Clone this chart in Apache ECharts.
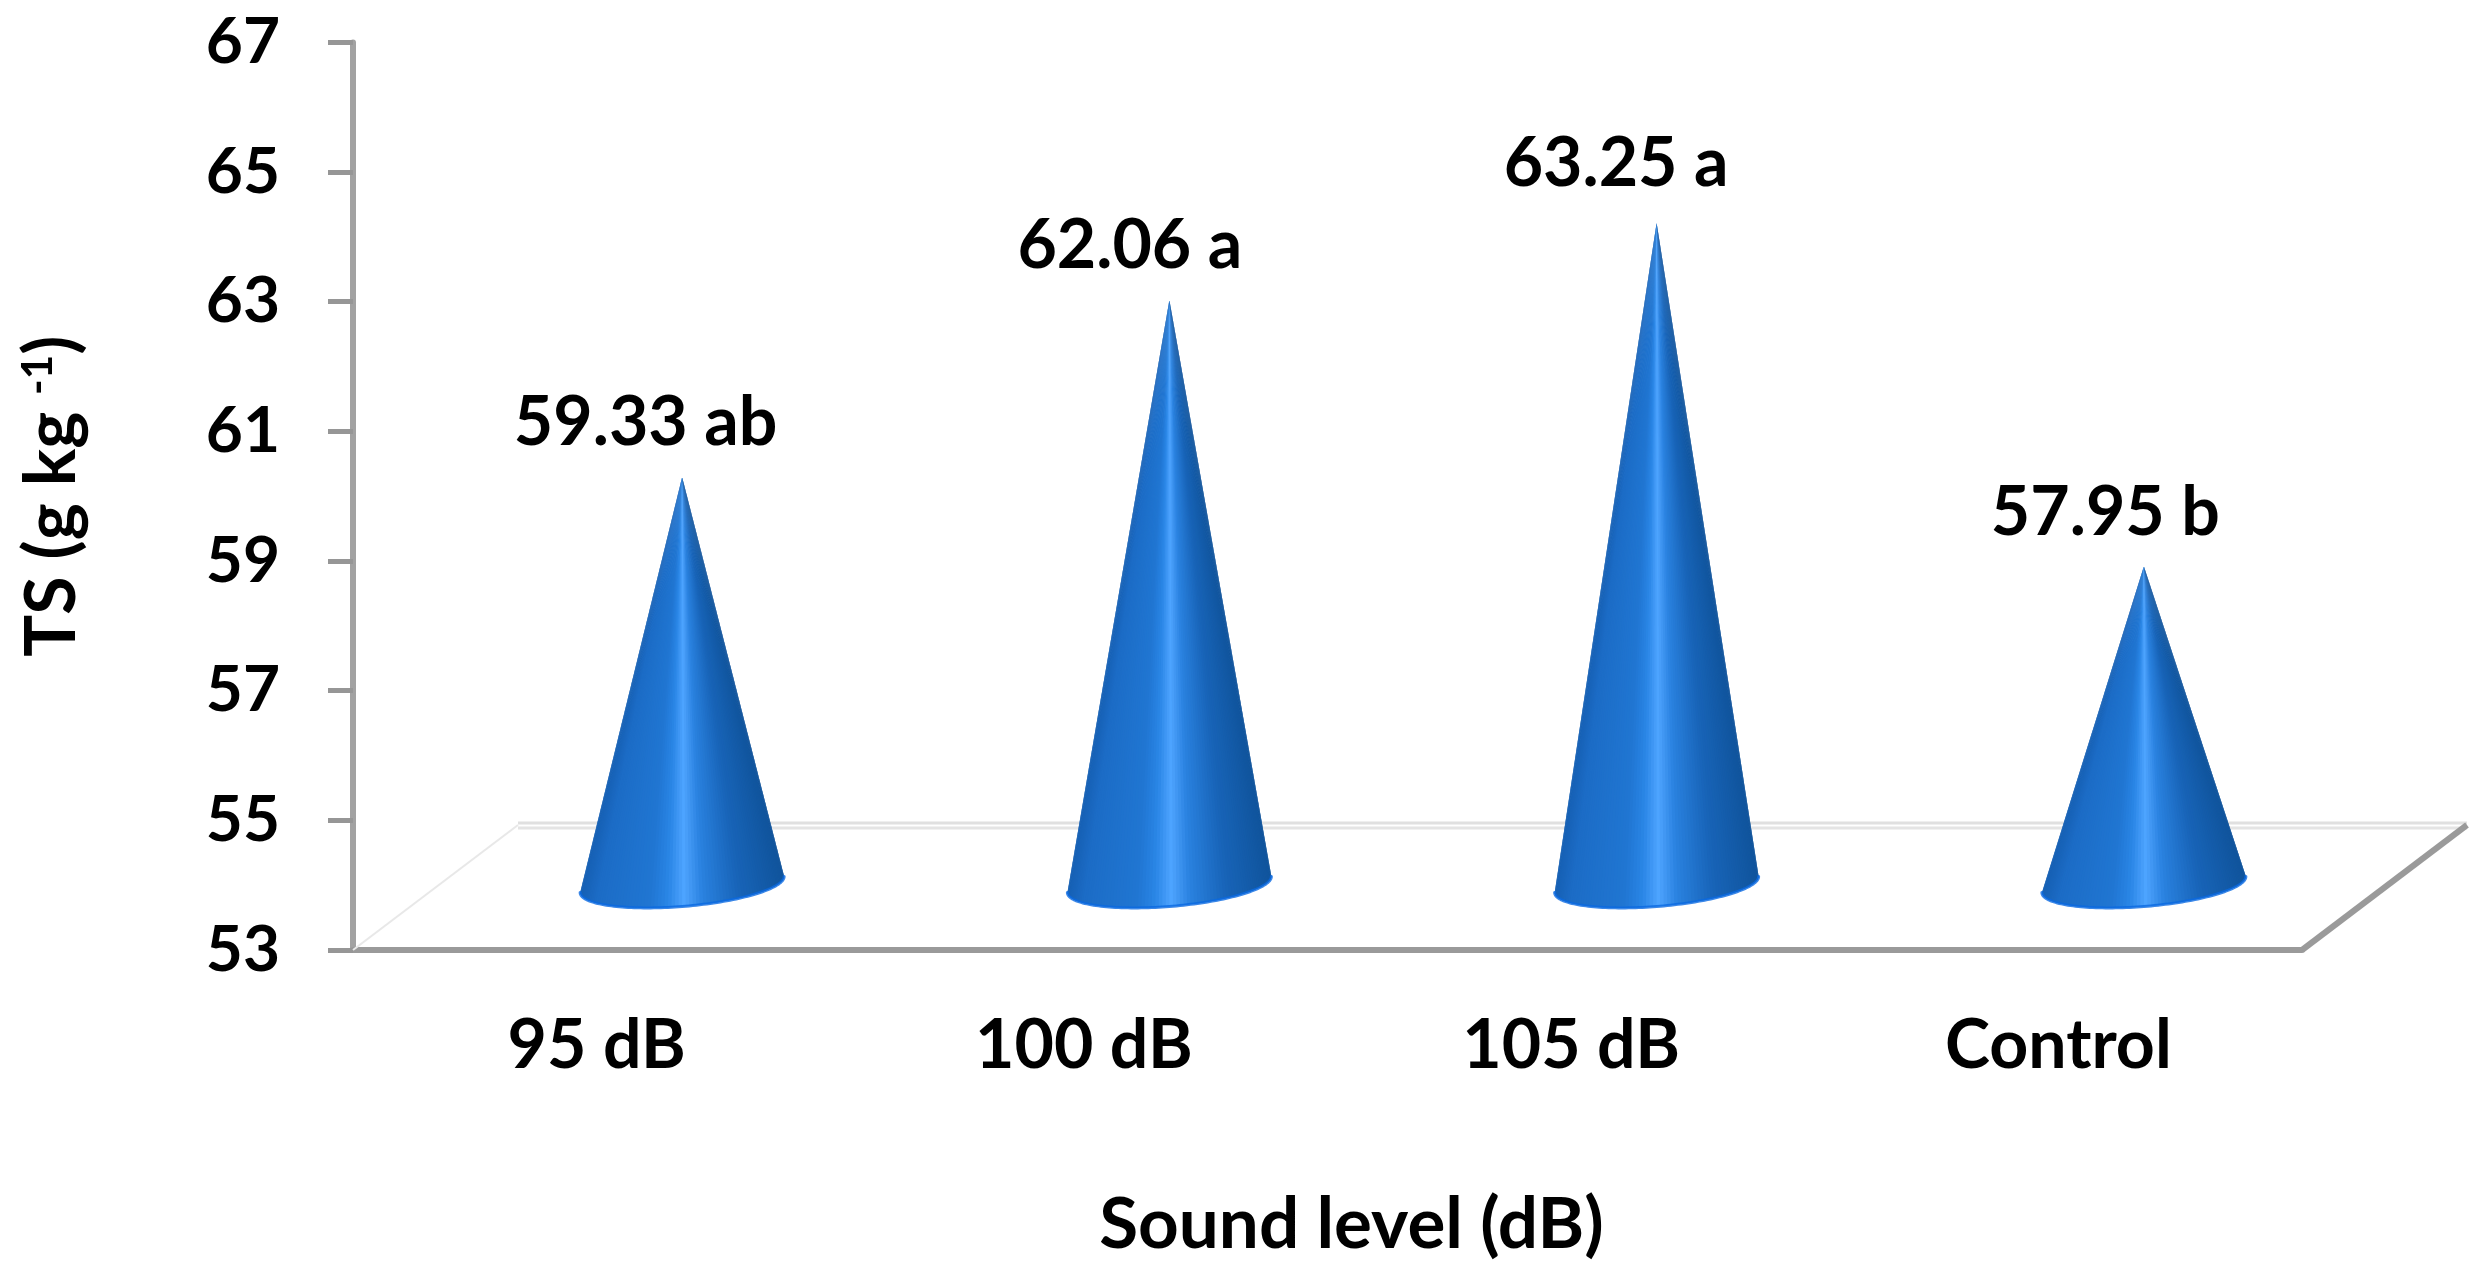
<!DOCTYPE html>
<html>
<head>
<meta charset="utf-8">
<title>TS by sound level</title>
<script src="https://cdn.jsdelivr.net/npm/echarts@6/dist/echarts.min.js"></script>
<style>
    html, body { margin: 0; padding: 0; background: #fff; }
    #chart_1 { width: 2484px; height: 1279px; }
</style>
</head>
<body>
<div id="chart_1"></div>
<script>
var categories = ['95 dB', '100 dB', '105 dB', 'Control'];
var tsValues = [59.33, 62.06, 63.25, 57.95];
var tsLetters = ['ab', 'a', 'a', 'b'];
var yTicks = [53, 55, 57, 59, 61, 63, 65, 67];

// the picture is a fake 3D chart, floor goes back this far from the axes
var depthX = 165;
var depthY = 125;
var coneShiftX = 3;
var coneHalfWidth = 102;
var coneTilt = 8;
var coneRound = 22;
// value labels were hand placed in the original, shift from category centre
var labelShiftX = [49, 46, 45, 47];
var labelShiftY = [54, 54, 59, 54];

// colours across the cone from left edge to right edge
var coneStops = [
    [0, [22, 96, 180]],
    [0.08, [28, 108, 198]],
    [0.34, [32, 118, 210]],
    [0.43, [42, 134, 230]],
    [0.51, [78, 164, 255]],
    [0.6, [42, 130, 224]],
    [0.78, [24, 100, 184]],
    [1, [16, 84, 156]]
];

function coneColor(u) {
    for (var i = 1; i < coneStops.length; i++) {
        if (u <= coneStops[i][0]) {
            var a = coneStops[i - 1], b = coneStops[i];
            var f = (u - a[0]) / (b[0] - a[0]);
            return 'rgb(' + [0, 1, 2].map(function (k) {
                return Math.round(a[1][k] + (b[1][k] - a[1][k]) * f);
            }).join(',') + ')';
        }
    }
    return 'rgb(16,84,156)';
}

// floor of the 3D box, back line and two slanted sides
function renderFloor(params, api) {
    var box = params.coordSys;
    var x0 = box.x, x1 = box.x + box.width, y0 = box.y + box.height;
    var backY = y0 - depthY;
    return {
        type: 'group',
        children: [
            { type: 'line', shape: { x1: x0 + depthX, y1: backY - 2, x2: x1 + depthX, y2: backY - 2 }, style: { stroke: '#e0e0e0', lineWidth: 3 } },
            { type: 'line', shape: { x1: x0 + depthX, y1: backY + 3, x2: x1 + depthX, y2: backY + 3 }, style: { stroke: '#e4e4e4', lineWidth: 3 } },
            { type: 'line', shape: { x1: x0, y1: y0, x2: x0 + depthX, y2: backY }, style: { stroke: '#e8e8e8', lineWidth: 2 } },
            { type: 'line', shape: { x1: x1, y1: y0, x2: x1 + depthX, y2: backY }, style: { stroke: '#9a9a9a', lineWidth: 6 } }
        ]
    };
}

function renderCone(params, api) {
    var idx = params.dataIndex;
    var top = api.coord([api.value(0), api.value(1)]);
    var foot = api.coord([api.value(0), yTicks[0]]);
    var apexX = top[0] + depthX / 2 + coneShiftX;
    var apexY = top[1] - depthY / 2;
    var baseX = foot[0] + depthX / 2 + coneShiftX;
    var baseY = foot[1] - depthY / 2 - 3;
    var children = [];
    var steps = 90;
    var rim = [];
    for (var i = 0; i <= steps; i++) {
        var t = Math.PI - Math.PI * i / steps;
        rim.push([
            baseX + Math.cos(t) * coneHalfWidth,
            baseY - Math.cos(t) * coneTilt + Math.sin(t) * coneRound
        ]);
    }
    // thin slices from the tip to the base, so the shading narrows up to the tip
    // each one runs under the next so no white seams show
    for (var j = 0; j < steps; j++) {
        var u = (rim[j][0] + rim[j + 1][0]) / 2;
        var c = coneColor((u - (baseX - coneHalfWidth)) / (2 * coneHalfWidth));
        children.push({
            type: 'polygon',
            shape: { points: [[apexX, apexY], rim[j], rim[Math.min(j + 2, steps)]] },
            style: { fill: c }
        });
    }
    children.push({
        type: 'polyline',
        shape: { points: rim },
        style: { fill: 'none', stroke: 'rgba(10,105,225,0.8)', lineWidth: 3, lineCap: 'round', lineJoin: 'round' }
    });
    children.push({
        type: 'text',
        style: {
            x: top[0] + labelShiftX[idx],
            y: top[1] - depthY / 2 - labelShiftY[idx],
            text: tsValues[idx].toFixed(2) + ' ' + tsLetters[idx],
            align: 'center',
            verticalAlign: 'middle',
            font: 'bold 68px Lato',
            fill: '#000'
        }
    });
    return { type: 'group', children: children };
}

function initChart() {
    var myChart1 = echarts.init(document.getElementById('chart_1'), null, { renderer: 'canvas' });
    var option1 = {
        animation: false,
        backgroundColor: '#fff',
        textStyle: { fontFamily: 'Lato' },
        grid: { left: 353, right: 182, top: 42.4, bottom: 329, containLabel: false, outerBoundsMode: 'none' },
        xAxis: {
            type: 'category',
            data: categories,
            name: 'Sound level (dB)',
            nameLocation: 'middle',
            nameGap: 240,
            // padding pushes the title right of the plot centre like the original
            nameTextStyle: { fontSize: 71, fontWeight: 'bold', color: '#000', padding: [0, 0, 0, 48] },
            axisTick: { show: false },
            axisLine: { lineStyle: { color: '#9a9a9a', width: 6 } },
            axisLabel: { fontSize: 68, fontWeight: 'bold', color: '#000', margin: 62 }
        },
        yAxis: {
            type: 'value',
            min: yTicks[0],
            max: yTicks[yTicks.length - 1],
            interval: 2,
            name: '{a|TS (g kg }{b|-1}{a|)}',
            nameLocation: 'middle',
            nameRotate: 90,
            nameGap: 266,
            nameTextStyle: {
                rich: {
                    a: { fontSize: 70, fontWeight: 'bold', color: '#000', fontFamily: 'Lato' },
                    b: { fontSize: 42, fontWeight: 'bold', color: '#000', fontFamily: 'Lato', verticalAlign: 'top' }
                }
            },
            splitLine: { show: false },
            axisLine: { show: true, lineStyle: { color: '#a2a2a2', width: 6 } },
            axisTick: { show: true, length: 25, lineStyle: { color: '#969696', width: 5 } },
            axisLabel: { fontSize: 64, fontWeight: 'bold', color: '#000', margin: 73 }
        },
        series: [
            {
                type: 'custom',
                name: 'floor',
                renderItem: renderFloor,
                clip: false,
                silent: true,
                data: [[0, yTicks[0]]],
                z: 1
            },
            {
                type: 'custom',
                name: 'TS',
                renderItem: renderCone,
                clip: false,
                encode: { x: 0, y: 1 },
                data: tsValues.map(function (v, i) { return [i, v]; }),
                z: 2
            }
        ]
    };
    myChart1.setOption(option1);
}

initChart();
</script>
</body>
</html>
